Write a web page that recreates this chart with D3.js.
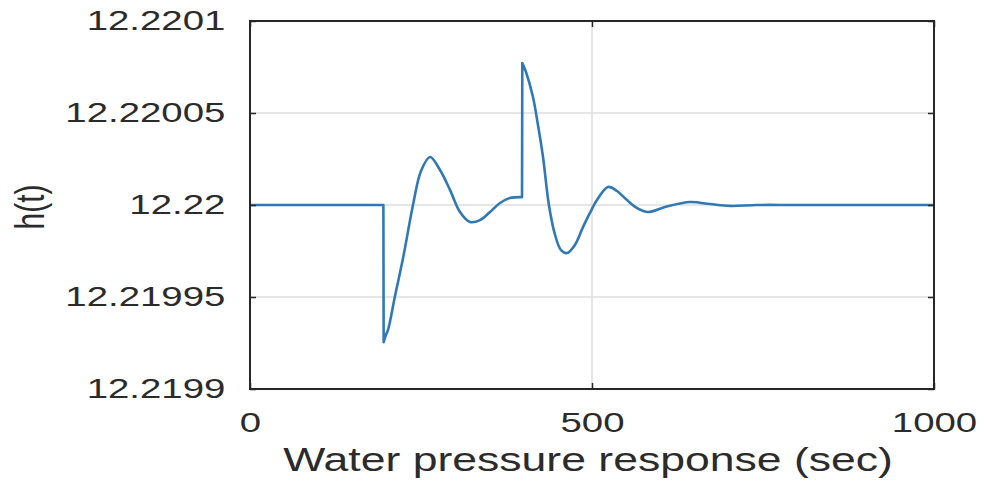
<!DOCTYPE html>
<html>
<head>
<meta charset="utf-8">
<script src="https://cdn.jsdelivr.net/npm/d3@7"></script>
<style>
  html, body { margin: 0; padding: 0; background: #fff; }
  svg { display: block; }
  text { font-family: "Liberation Sans", Arial, sans-serif; fill: #2b2b2b; }
</style>
</head>
<body>
<svg id="chart" width="984" height="485"></svg>
<script>
// Time samples (sec) and head h(t) offset from 12.22, in units of 1e-5.
// Disturbances are applied at about t = 195 s and t = 398 s (vertical jumps).
const timeSec = [0, 195, 195.4, 198.8, 201.8, 212, 223.7, 238.3, 250, 263.2, 277.8, 292.4, 307, 321.6, 336.3, 350.9, 365.5, 380, 397.7, 398.1, 403.5, 413.7, 421, 428.4, 437, 446, 454.7, 463.5, 475, 486.8, 497, 507.3, 523.4, 536.5, 551.2, 565.8, 581.9, 606.7, 643.3, 672.5, 701.8, 741, 800, 1000];
const headOffset = [0, 0, -7.45, -7.05, -6.79, -4.95, -2.9, 0, 1.85, 2.61, 1.90, 0.82, -0.38, -0.92, -0.82, -0.38, 0.11, 0.38, 0.43, 7.72, 7.23, 5.87, 4.35, 2.61, 0, -1.63, -2.45, -2.61, -2.17, -1.20, -0.43, 0.27, 0.98, 0.76, 0.27, -0.16, -0.38, -0.11, 0.16, 0.05, -0.05, 0, 0, 0];
const stepTimes = [195, 398];
const baseHead = 12.22;

const xTicks = [0, 500, 1000];
const yTicks = [12.2199, 12.21995, 12.22, 12.22005, 12.2201];
const yTickLabels = ["12.2199", "12.21995", "12.22", "12.22005", "12.2201"];
const xLabel = "Water pressure response (sec)";
const yLabel = "h(t)";

const data = timeSec.map((t, i) => ({ t, h: baseHead + headOffset[i] * 1e-5 }));

const svg = d3.select("#chart");
const plotLeft = 250, plotRight = 934, plotTop = 21, plotBottom = 389;
const stretch = 1.37;

const x = d3.scaleLinear().domain([0, 1000]).range([plotLeft, plotRight]);
const y = d3.scaleLinear().domain([12.2199, 12.2201]).range([plotBottom, plotTop]);

// grid lines
const grid = svg.append("g").attr("stroke", "#dedede").attr("stroke-width", 1.5);
xTicks.slice(1, -1).forEach(v => {
  grid.append("line").attr("x1", x(v)).attr("x2", x(v)).attr("y1", plotTop).attr("y2", plotBottom);
});
yTicks.slice(1, -1).forEach(v => {
  grid.append("line").attr("x1", plotLeft).attr("x2", plotRight).attr("y1", y(v)).attr("y2", y(v));
});

// data line: smooth pieces between the jumps, joined by straight vertical steps
const segments = [];
let current = [];
data.forEach((d, i) => {
  if (i > 0 && stepTimes.some(s => data[i - 1].t <= s + 0.01 && d.t > s + 0.01 && d.t - data[i - 1].t < 1)) {
    segments.push(current);
    current = [];
  }
  current.push(d);
});
segments.push(current);

const smooth = d3.line().x(d => x(d.t)).y(d => y(d.h)).curve(d3.curveCatmullRom.alpha(0.5));
const pathD = segments.map((seg, i) => {
  const s = smooth(seg);
  return i === 0 ? s : "L" + s.slice(1);
}).join("");

svg.append("path")
  .attr("fill", "none")
  .attr("stroke", "#3079b4")
  .attr("stroke-width", 2.6)
  .attr("stroke-linejoin", "round")
  .attr("d", pathD);

// axes
const axisStyle = g => {
  g.select(".domain").remove();
  g.selectAll(".tick line").attr("stroke", "#262626").attr("stroke-width", 1.5);
};

const xAxis = svg.append("g")
  .attr("transform", `translate(0,${plotBottom})`)
  .call(d3.axisBottom(x).tickValues(xTicks).tickSizeInner(-6).tickSizeOuter(0).tickPadding(23).tickFormat(d3.format("d")))
  .call(axisStyle);
xAxis.selectAll(".tick text")
  .attr("font-size", 28)
  .attr("fill", "#2b2b2b")
  .attr("transform", `scale(${stretch},1)`);

svg.append("g")
  .attr("transform", `translate(0,${plotTop})`)
  .call(d3.axisTop(x).tickValues(xTicks).tickSizeInner(-6).tickSizeOuter(0).tickFormat(""))
  .call(axisStyle);

const yAxis = svg.append("g")
  .attr("transform", `translate(${plotLeft},0)`)
  .call(d3.axisLeft(y).tickValues(yTicks).tickSizeInner(-6).tickSizeOuter(0).tickPadding(18)
    .tickFormat((d, i) => yTickLabels[i]))
  .call(axisStyle);
yAxis.selectAll(".tick text")
  .attr("font-size", 28)
  .attr("fill", "#2b2b2b")
  .attr("transform", `scale(${stretch},1)`);

svg.append("g")
  .attr("transform", `translate(${plotRight},0)`)
  .call(d3.axisRight(y).tickValues(yTicks).tickSizeInner(-6).tickSizeOuter(0).tickFormat(""))
  .call(axisStyle);

// frame
svg.append("rect")
  .attr("x", plotLeft).attr("y", plotTop)
  .attr("width", plotRight - plotLeft).attr("height", plotBottom - plotTop)
  .attr("fill", "none").attr("stroke", "#262626").attr("stroke-width", 2);

// axis titles
const xTitle = svg.append("text")
  .attr("text-anchor", "middle")
  .attr("font-size", 33)
  .text(xLabel);
const xTitleScale = 610 / xTitle.node().getComputedTextLength();
xTitle.attr("transform", `translate(588,471) scale(${xTitleScale},1)`);

svg.append("text")
  .attr("transform", `translate(44,${(plotTop + plotBottom) / 2 + 2}) rotate(-90) scale(1,${stretch})`)
  .attr("text-anchor", "middle")
  .attr("font-size", 30)
  .text(yLabel);
</script>
</body>
</html>
